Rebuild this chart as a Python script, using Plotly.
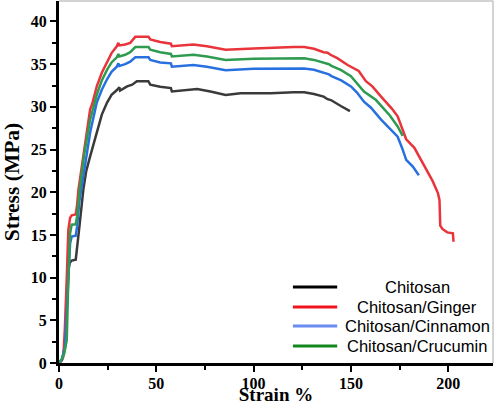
import plotly.graph_objects as go

names = ["Chitosan", "Chitosan/Ginger", "Chitosan/Cinnamon", "Chitosan/Crucumin"]
colors = ["#3a3a3a", "#e8343a", "#2870e0", "#2e9b50"]
legend_colors = ["#000000", "#f0141e", "#6a8cf2", "#14881e"]

chitosan_x = [0, 1.5, 3.1, 4.8, 5.5, 6.5, 8.6, 9.1, 10.5, 12.5, 14, 16, 19.6, 22, 24.7, 27, 29.9, 31, 31.4, 35, 37.6, 40, 45.9, 46.9, 52, 57.5, 58, 62.4, 71, 77.8, 85.6, 93.3, 108.8, 120.6, 126, 131, 136, 138, 139.7, 144.8, 149.5]
chitosan_y = [0, 0.3, 2.0, 10.9, 11.7, 12.0, 12.1, 13.0, 16, 20.3, 22.5, 24.2, 27.3, 29.1, 30.5, 31.4, 32.0, 32.3, 31.9, 32.4, 32.6, 33.0, 33.0, 32.6, 32.35, 32.2, 31.8, 31.9, 32.1, 31.8, 31.4, 31.6, 31.6, 31.7, 31.7, 31.5, 31.2, 30.9, 30.8, 30.1, 29.5]

ginger_x = [0, 1, 2.2, 3, 4, 4.8, 5.7, 6.5, 8.6, 9.3, 10, 12, 14, 16, 17, 19.4, 22, 24.6, 27, 29.7, 30.5, 31, 34, 36.6, 39.2, 46, 46.9, 52, 57.5, 58, 69, 76, 85.6, 100, 114, 120.6, 126, 131, 136, 138, 139.5, 143, 148.3, 154, 157.7, 161, 165.5, 167.2, 171, 174, 175.5, 176.6, 178.4, 182.6, 185.5, 188.7, 192, 194.7, 195.5, 195.9, 197, 199.5, 202.4, 202.7]
ginger_y = [0, 0.2, 0.7, 4, 10, 15.6, 17.0, 17.3, 17.4, 18.5, 20.3, 23.5, 26.5, 29.7, 30.3, 32.4, 34, 35.2, 36.3, 37.1, 37.5, 37.2, 37.3, 37.5, 38.2, 38.2, 37.9, 37.6, 37.4, 37.1, 37.3, 37.1, 36.7, 36.85, 37.0, 37.0, 37.0, 36.8, 36.4, 36.35, 36.1, 35.7, 34.9, 34.2, 33.0, 32.4, 31.2, 30.8, 29.8, 28.9, 28.0, 27.1, 26.2, 25.2, 24.0, 22.6, 21.3, 19.9, 19.1, 16.1, 15.7, 15.3, 15.2, 14.2]

cinnamon_x = [0, 1.5, 3.1, 4.3, 5.2, 5.7, 6.5, 8.6, 9.3, 10.5, 11.7, 14, 16, 19.4, 22, 24.6, 27, 29.7, 30.5, 31, 34, 36.6, 39.2, 46, 46.9, 52, 57.5, 58, 69, 76, 85.6, 100, 114, 120.6, 126, 131, 136, 138.7, 140, 145, 150, 153, 156.7, 160.3, 165.5, 170, 174, 176.6, 178.4, 181.8, 184.9]
cinnamon_y = [0, 0.4, 1.9, 8, 12.5, 14.0, 14.8, 14.9, 16.0, 19, 20.7, 24.2, 27.0, 30.5, 32.0, 33.2, 34.1, 34.7, 35.1, 34.8, 35.0, 35.3, 35.8, 35.8, 35.5, 35.2, 35.1, 34.7, 34.9, 34.7, 34.3, 34.45, 34.5, 34.5, 34.5, 34.35, 34.0, 33.8, 33.6, 33.1, 32.4, 31.7, 30.6, 29.9, 28.5, 27.4, 26.5, 25.0, 23.8, 23.0, 22.0]

curcumin_x = [0, 1.5, 2.7, 4, 4.8, 5.7, 6.5, 8.6, 9.3, 10.8, 13, 16, 19.4, 22, 24.6, 27, 29.7, 30.5, 31, 34, 36.6, 39.2, 46, 46.9, 52, 57.5, 58, 69, 76, 85.6, 100, 114, 120.6, 126, 131, 136, 138.7, 140, 145, 150, 153, 156.7, 162.9, 165.5, 170, 174, 176.6]
curcumin_y = [0, 0.5, 1.1, 2.7, 10, 15.2, 16.2, 16.25, 17.2, 20.7, 24.5, 28.5, 31.4, 33.1, 34.3, 35.2, 35.8, 36.2, 35.9, 36.1, 36.4, 37.0, 37.0, 36.7, 36.4, 36.2, 35.9, 36.1, 35.9, 35.5, 35.65, 35.7, 35.7, 35.7, 35.5, 35.2, 35.0, 34.8, 34.3, 33.6, 32.8, 31.8, 30.8, 30.1, 29.0, 27.7, 26.6]

x_ticks = [0, 50, 100, 150, 200]
y_ticks = [0, 5, 10, 15, 20, 25, 30, 35, 40]

series = [(chitosan_x, chitosan_y), (ginger_x, ginger_y), (cinnamon_x, cinnamon_y), (curcumin_x, curcumin_y)]

fig = go.Figure()
for (xs, ys), nm, c in zip(series, names, colors):
    fig.add_trace(go.Scatter(x=xs, y=ys, mode="lines", name=nm, showlegend=False,
                             line=dict(color=c, width=2.5)))

serif = "Liberation Serif, Times New Roman, serif"
tickfont = dict(family=serif, size=16, color="black", weight="bold")

# legend (drawn as annotations + line samples, centred text like the reference)
legend_rows = [0.210, 0.155, 0.102, 0.047]
shapes = [
    dict(type="line", xref="paper", yref="paper", x0=0, y0=1, x1=1, y1=1,
         line=dict(color="#c4c4c4", width=1.5), layer="above"),
    dict(type="line", xref="paper", yref="paper", x0=1, y0=0, x1=1, y1=1,
         line=dict(color="#c4c4c4", width=1.5), layer="above"),
]
annotations = []
for nm, lc, ry in zip(names, legend_colors, legend_rows):
    shapes.append(dict(type="line", xref="paper", yref="paper", x0=0.539, x1=0.641,
                       y0=ry, y1=ry, line=dict(color=lc, width=3)))
    annotations.append(dict(text=nm, xref="paper", yref="paper", x=0.825, y=ry,
                            xanchor="center", yanchor="middle", showarrow=False,
                            font=dict(family="Liberation Sans, Arial, sans-serif", size=16.5, color="black")))

fig.update_layout(
    width=496, height=405,
    margin=dict(l=59, r=3, t=1, b=42),
    plot_bgcolor="white", paper_bgcolor="white",
    showlegend=False,
    shapes=shapes,
    annotations=annotations,
)
fig.update_xaxes(
    range=[0, 223], tickvals=x_ticks, ticktext=[str(v) for v in x_ticks],
    showgrid=False, zeroline=False, automargin=False,
    showline=True, linecolor="black", linewidth=3,
    ticks="outside", ticklen=6, tickwidth=2, tickcolor="black",
    minor=dict(ticks="outside", ticklen=4, tickwidth=2, tickcolor="black", dtick=25, tick0=0),
    tickfont=tickfont, ticklabelstandoff=-2,
    title=dict(text="Strain %", font=dict(family=serif, size=19, color="black", weight="bold"), standoff=3),
)
fig.update_yaxes(
    range=[0, 42.4], tickvals=y_ticks, ticktext=[str(v) for v in y_ticks],
    showgrid=False, zeroline=False, automargin=False,
    showline=True, linecolor="black", linewidth=3,
    ticks="outside", ticklen=6, tickwidth=2, tickcolor="black",
    minor=dict(ticks="outside", ticklen=4, tickwidth=2, tickcolor="black", dtick=2.5, tick0=0),
    tickfont=tickfont,
    title=dict(text="Stress (MPa)", font=dict(family=serif, size=21.5, color="black", weight="bold"), standoff=8),
)

fig.write_html("out.html",
               config={"displayModeBar": False},
               post_script="document.body.style.margin='0';document.body.style.padding='0';")
